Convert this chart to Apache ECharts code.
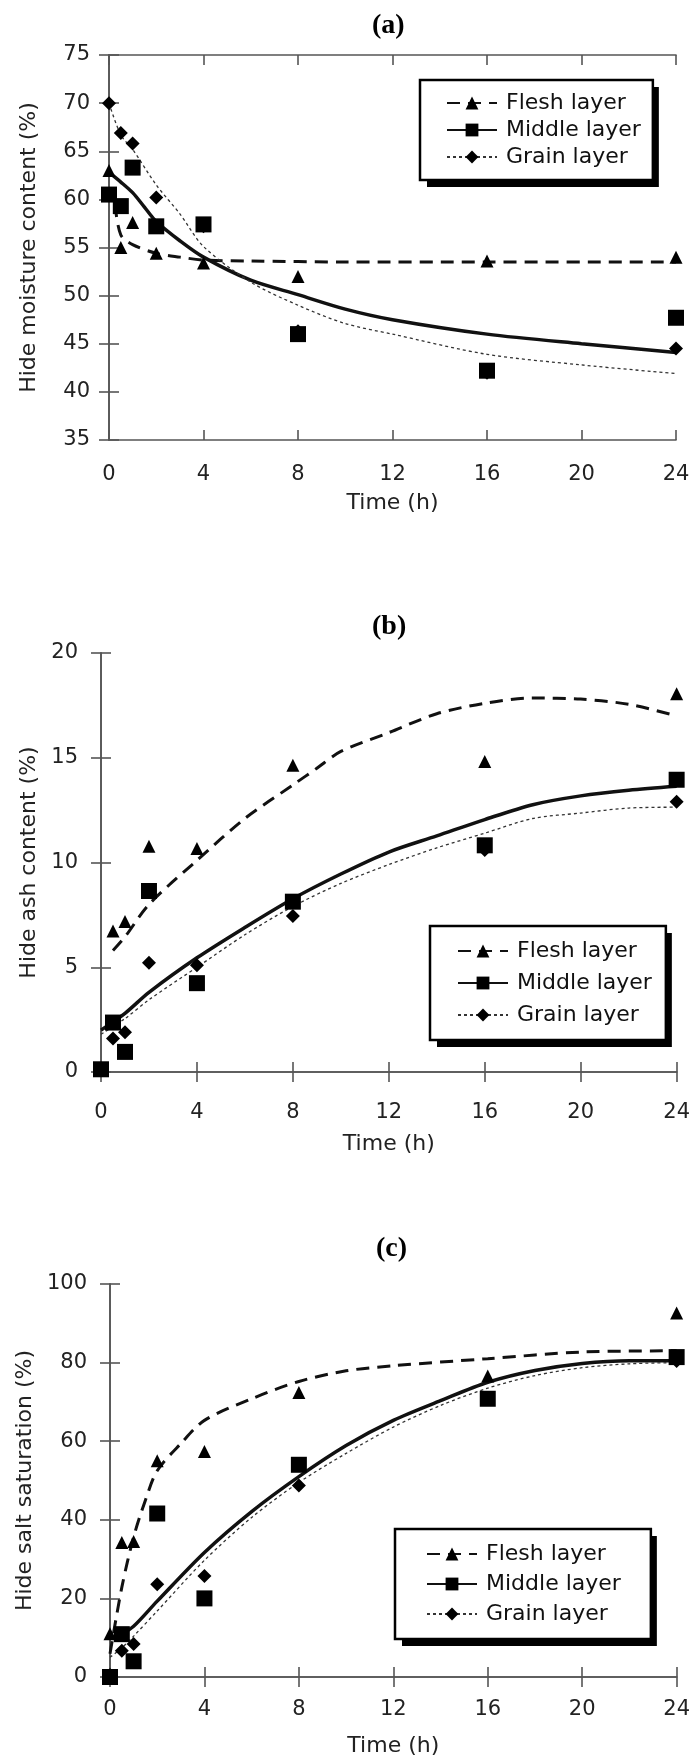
<!DOCTYPE html>
<html>
<head>
<meta charset="utf-8">
<script src="https://cdn.jsdelivr.net/npm/echarts@6/dist/echarts.min.js"></script>
<style>
html, body { margin: 0; padding: 0; background: #fff; }
#chart { width: 693px; height: 1758px; }
</style>
</head>
<body>
<div id="chart"></div>
<script>
// sampling times (h)
var hours = [0, 0.5, 1, 2, 4, 8, 16, 24];
var names = ['Flesh layer', 'Middle layer', 'Grain layer'];
// x axis: min, max, step
var xRange = [0, 24, 4];

// (a) moisture content
var yRangeA = [35, 75, 5];
var fleshA = [63, 55, 57.6, 54.4, 53.4, 52, 53.6, 54];
var middleA = [60.5, 59.3, 63.3, 57.2, 57.4, 46, 42.2, 47.7];
var grainA = [70, 66.9, 65.8, 60.2, 57.2, 46.3, 42, 44.5];
var fleshFitXA = [0.25, 0.5, 1, 2, 3, 4, 6, 10, 16, 24];
var fleshFitA = [59.5, 56.3, 55.3, 54.4, 54.0, 53.7, 53.6, 53.5, 53.5, 53.5];
var middleFitXA = [0, 0.5, 1, 1.5, 2, 3, 4, 6, 8, 10, 12, 16, 20, 24];
var middleFitA = [62.8, 61.8, 60.7, 59.2, 57.7, 55.7, 54.0, 51.6, 50.1, 48.6, 47.5, 46.0, 45.0, 44.1];
var grainFitXA = [0, 0.5, 1, 2, 3, 4, 6, 8, 10, 12, 16, 20, 24];
var grainFitA = [70, 66.7, 65.2, 61.5, 58.5, 55.1, 51.4, 49.0, 47.1, 46.0, 43.9, 42.8, 41.9];

// (b) ash content
var yRangeB = [0, 20, 5];
var fleshB = [0.2, 6.73, 7.18, 10.78, 10.67, 14.64, 14.82, 18.05];
var middleB = [0.13, 2.36, 0.96, 8.64, 4.24, 8.13, 10.82, 13.95];
var grainB = [0.1, 1.6, 1.9, 5.22, 5.1, 7.45, 10.6, 12.9];
var fleshFitXB = [0.5, 1, 2, 4, 6, 8, 9, 10, 12, 14, 16, 18, 20, 22, 24];
var fleshFitB = [5.8, 6.45, 8.0, 10.1, 12.1, 13.7, 14.5, 15.3, 16.2, 17.1, 17.6, 17.85, 17.8, 17.55, 17.0];
var middleFitXB = [0, 1, 2, 4, 6, 8, 10, 12, 14, 16, 18, 20, 22, 24];
var middleFitB = [2.0, 2.8, 3.8, 5.45, 6.9, 8.27, 9.45, 10.5, 11.27, 12.05, 12.76, 13.18, 13.45, 13.64];
var grainFitXB = [0, 1, 2, 4, 6, 8, 10, 12, 14, 16, 18, 20, 22, 24];
var grainFitB = [1.8, 2.55, 3.45, 5.0, 6.55, 7.9, 9.0, 9.9, 10.7, 11.4, 12.1, 12.36, 12.6, 12.64];

// (c) salt saturation
var yRangeC = [0, 100, 20];
var fleshC = [11, 34.2, 34.5, 55, 57.4, 72.4, 76.6, 92.6];
var middleC = [0, 10.9, 4.0, 41.6, 20.0, 54.0, 70.8, 81.4];
var grainC = [0.5, 6.7, 8.4, 23.6, 25.7, 48.7, 71, 80.4];
var fleshFitXC = [0, 0.5, 1, 1.5, 2, 3, 4, 6, 8, 10, 12, 16, 20, 24];
var fleshFitC = [5.9, 22.8, 35.6, 45, 52.5, 59.4, 65.3, 70.8, 75.2, 77.9, 79.2, 81, 82.7, 83];
var middleFitXC = [0.5, 1, 2, 4, 6, 8, 10, 12, 14, 16, 18, 20, 22, 24];
var middleFitC = [11, 12.9, 19.3, 31.7, 42.1, 51, 58.9, 65.3, 70.3, 75, 78, 79.8, 80.5, 80.5];
var grainFitXC = [0, 0.5, 1, 2, 4, 6, 8, 10, 12, 14, 16, 18, 20, 22, 24];
var grainFitC = [5, 7.4, 10.4, 16.8, 29.7, 40.6, 49.5, 56.9, 63.6, 69.1, 73.5, 76.7, 78.7, 79.7, 80];

function pairs(xs, ys) {
    return xs.map(function (x, i) { return [x, ys[i]]; });
}

var FONT = 'DejaVu Sans';
var LEGEND_FONT = 22;
var styles = [
    { symbol: 'triangle', size: [13, 13], line: { color: '#111', width: 3, type: [13, 8] } },
    { symbol: 'rect', size: 16, line: { color: '#111', width: 3.5, type: 'solid' } },
    { symbol: 'diamond', size: [14, 14], line: { color: '#333', width: 1.3, type: [3, 3] } }
];

var panels = [
    {
        title: '(a)', titleX: 389, titleY: 12, yName: 'Hide moisture content (%)', yRange: yRangeA,
        grid: { left: 109, top: 55, width: 567, height: 385 },
        labelMargin: 24, nameGap: 52, yLabelMargin: 19, yNameGap: 69,
        pts: [fleshA, middleA, grainA],
        fits: [[fleshFitXA, fleshFitA], [middleFitXA, middleFitA], [grainFitXA, grainFitA]],
        legend: { left: 420, top: 80, itemGap: 5, padding: [12, 12, 12, 26] }
    },
    {
        title: '(b)', titleX: 389, titleY: 613, yName: 'Hide ash content (%)', yRange: yRangeB,
        grid: { left: 101, top: 653, width: 577, height: 419 },
        labelMargin: 30, nameGap: 61, yLabelMargin: 23, yNameGap: 61,
        pts: [fleshB, middleB, grainB],
        fits: [[fleshFitXB, fleshFitB], [middleFitXB, middleFitB], [grainFitXB, grainFitB]],
        legend: { left: 430, top: 926, itemGap: 10, padding: [14, 14, 14, 27] }
    },
    {
        title: '(c)', titleX: 393, titleY: 1235, yName: 'Hide salt saturation (%)', yRange: yRangeC,
        grid: { left: 110, top: 1284, width: 567, height: 393 },
        labelMargin: 22, nameGap: 58, yLabelMargin: 23, yNameGap: 68,
        pts: [fleshC, middleC, grainC],
        fits: [[fleshFitXC, fleshFitC], [middleFitXC, middleFitC], [grainFitXC, grainFitC]],
        legend: { left: 395, top: 1529, itemGap: 8, padding: [14, 30, 14, 31] }
    }
];

// measure legend text so the drop shadow matches the box
var ctx = document.createElement('canvas').getContext('2d');
ctx.font = LEGEND_FONT + 'px "' + FONT + '"';
var maxText = Math.max.apply(null, names.map(function (n) { return ctx.measureText(n).width; }));

var option = {
    animation: false,
    backgroundColor: '#fff',
    title: [], grid: [], xAxis: [], yAxis: [], legend: [], series: [], graphic: []
};

var axisLine = { show: true, lineStyle: { color: '#555', width: 1.6 } };
var axisTick = { show: true, inside: true, length: 10, lineStyle: { color: '#555', width: 1.6 } };
var labelStyle = { fontFamily: FONT, fontSize: 21, color: '#222' };
var nameStyle = { fontFamily: FONT, fontSize: 22, color: '#222' };

panels.forEach(function (p, i) {
    option.grid.push(p.grid);
    option.title.push({
        text: p.title, left: p.titleX - 17, top: p.titleY, padding: 0,
        textStyle: { fontFamily: 'Liberation Serif', fontWeight: 'bold', fontSize: 28, color: '#000' }
    });
    option.xAxis.push({
        gridIndex: i, type: 'value', position: 'bottom',
        min: xRange[0], max: xRange[1], interval: xRange[2],
        name: 'Time (h)', nameLocation: 'middle', nameGap: p.nameGap, nameTextStyle: nameStyle,
        axisLine: axisLine, axisTick: axisTick,
        axisLabel: Object.assign({ margin: p.labelMargin }, labelStyle),
        splitLine: { show: false }
    });
    option.xAxis.push({
        gridIndex: i, type: 'value', position: 'top',
        min: xRange[0], max: xRange[1], interval: xRange[2],
        axisLine: axisLine, axisTick: axisTick, axisLabel: { show: false }, splitLine: { show: false }
    });
    option.yAxis.push({
        gridIndex: i, type: 'value', position: 'left',
        min: p.yRange[0], max: p.yRange[1], interval: p.yRange[2],
        name: p.yName, nameLocation: 'middle', nameGap: p.yNameGap, nameTextStyle: nameStyle,
        axisLine: axisLine, axisTick: axisTick,
        axisLabel: Object.assign({ margin: p.yLabelMargin }, labelStyle),
        splitLine: { show: false }
    });
    option.yAxis.push({
        gridIndex: i, type: 'value', position: 'right',
        min: p.yRange[0], max: p.yRange[1], interval: p.yRange[2],
        axisLine: axisLine, axisTick: axisTick, axisLabel: { show: false }, splitLine: { show: false }
    });
    var lg = p.legend;
    option.legend.push({
        data: names, orient: 'vertical', left: lg.left, top: lg.top, z: 6,
        itemWidth: 50, itemHeight: 16, itemGap: lg.itemGap, padding: lg.padding,
        backgroundColor: '#fff', borderColor: '#000', borderWidth: 2.5,
        selectedMode: false,
        textStyle: { fontFamily: FONT, fontSize: LEGEND_FONT, lineHeight: 22, color: '#111', padding: [0, 0, 0, 4] }
    });
    // black drop shadow behind the legend box
    var w = lg.padding[3] + 50 + 5 + 4 + maxText + lg.padding[1];
    var h = lg.padding[0] + 3 * 22 + 2 * lg.itemGap + lg.padding[2];
    option.graphic.push({
        type: 'rect', z: 5, silent: true,
        shape: { x: lg.left + 7, y: lg.top + 7, width: w, height: h },
        style: { fill: '#000' }
    });
    // fitted curves
    p.fits.forEach(function (f, k) {
        option.series.push({
            type: 'line', name: names[k], xAxisIndex: 2 * i, yAxisIndex: 2 * i,
            data: pairs(f[0], f[1]), smooth: 0.3,
            symbol: styles[k].symbol, symbolSize: styles[k].size, showSymbol: false,
            color: '#000', lineStyle: styles[k].line, itemStyle: { color: '#000' }, z: 2
        });
    });
    // measured points (grain first so squares sit on top)
    [2, 0, 1].forEach(function (k) {
        option.series.push({
            type: 'scatter', name: names[k] + ' data', xAxisIndex: 2 * i, yAxisIndex: 2 * i,
            data: pairs(hours, p.pts[k]),
            symbol: styles[k].symbol, symbolSize: styles[k].size,
            itemStyle: { color: '#000', opacity: 1 }, z: 3
        });
    });
});

var chart = echarts.init(document.getElementById('chart'));
chart.setOption(option);
</script>
</body>
</html>
